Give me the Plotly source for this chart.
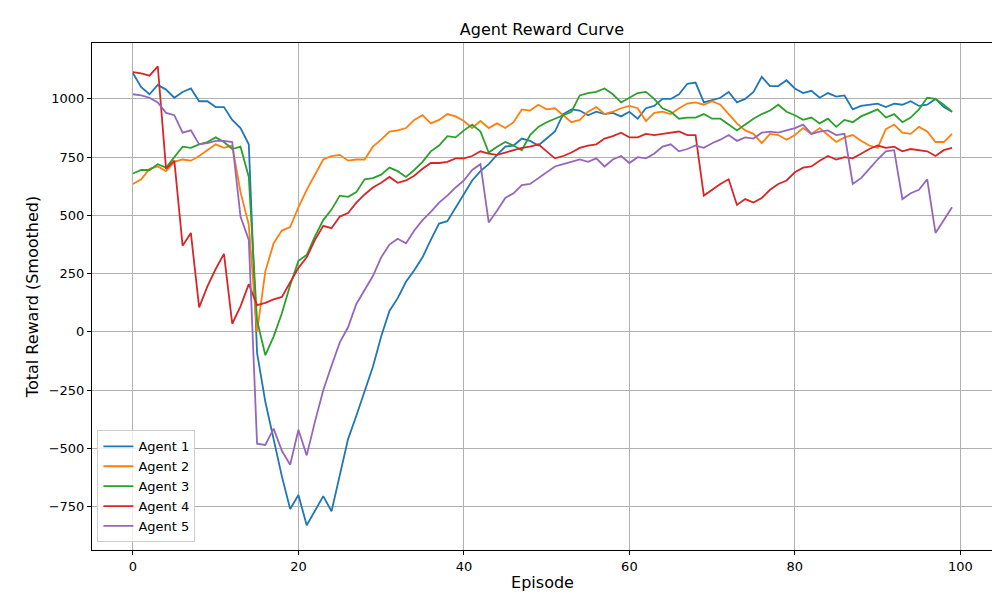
import plotly.graph_objects as go

episodes = list(range(100))
agent1 = [1110,1050,1020,1060,1040,1005,1030,1045,990,990,965,965,910,875,805,-90,-300,-460,-620,-760,-700,-830,-770,-705,-770,-620,-460,-360,-250,-150,-20,90,145,215,265,320,395,465,475,535,595,650,690,720,760,795,800,830,820,800,830,860,935,955,950,930,945,935,940,925,945,915,960,970,1000,1000,1020,1065,1070,985,995,1005,1030,985,1000,1030,1095,1055,1055,1080,1045,1025,1035,1005,1025,1010,1015,955,970,975,980,965,980,975,990,970,975,1000,965,945]
agent2 = [635,655,700,710,690,730,740,735,755,780,805,790,800,600,460,0,260,380,435,450,535,610,675,740,755,760,735,740,740,795,825,860,865,875,910,930,895,910,935,925,905,875,905,875,895,875,900,955,950,975,955,960,930,900,910,945,965,935,945,960,970,960,905,940,945,935,960,980,985,975,990,975,935,895,865,850,810,850,845,825,845,875,850,875,845,815,835,845,820,800,790,870,890,855,850,880,860,815,815,850]
agent3 = [680,695,695,720,705,750,795,790,805,815,835,815,785,795,665,50,-100,-20,80,200,305,330,410,480,525,585,580,600,655,660,675,705,690,665,695,730,775,800,840,835,865,890,860,770,795,815,800,780,845,880,900,915,930,945,1015,1025,1030,1045,1020,985,1005,1025,1030,1000,960,945,915,920,920,935,915,915,890,865,890,915,935,950,975,945,930,910,920,895,915,880,910,900,925,940,955,920,935,900,920,955,1005,1000,975,945]
agent4 = [1115,1110,1100,1140,700,735,370,425,105,195,270,335,35,110,205,115,125,140,150,210,275,320,395,455,445,495,510,555,590,620,640,665,640,650,670,700,725,725,730,745,745,755,775,765,760,770,780,790,795,805,775,745,755,770,790,800,805,830,840,855,835,835,850,845,850,855,860,845,845,585,610,635,655,545,570,555,575,610,635,650,685,705,710,735,755,740,750,745,765,785,800,790,795,775,785,780,775,755,780,790]
agent5 = [1020,1015,1005,985,940,930,855,865,805,810,820,820,815,495,395,-480,-485,-415,-510,-570,-420,-530,-385,-250,-145,-45,20,120,180,240,320,375,400,380,435,480,515,555,585,620,650,695,720,470,520,575,595,630,635,660,685,710,720,730,740,730,745,710,740,755,725,750,745,765,795,805,775,785,800,790,810,825,845,820,835,830,855,860,855,865,875,890,850,860,865,845,850,635,660,700,740,775,780,570,595,610,655,425,480,535]

names = ["Agent 1", "Agent 2", "Agent 3", "Agent 4", "Agent 5"]
colors = ["#1f77b4", "#ff7f0e", "#2ca02c", "#d62728", "#9467bd"]
series = [agent1, agent2, agent3, agent4, agent5]

fig = go.Figure()
for n, c, s in zip(names, colors, series):
    fig.add_trace(go.Scatter(x=episodes, y=s, mode="lines", name=n,
                             line=dict(color=c, width=1.8)))

axis = dict(showline=True, linecolor="black", linewidth=1, mirror=True,
            ticks="outside", ticklen=4, tickcolor="black", automargin=False,
            showgrid=True, gridcolor="#b0b0b0", gridwidth=1, zeroline=False,
            tickfont=dict(size=13, color="black"))
fig.update_layout(
    width=1000, height=600,
    paper_bgcolor="white", plot_bgcolor="white",
    font=dict(family="DejaVu Sans", size=13, color="black"),
    margin=dict(l=84, r=15, t=35, b=58, autoexpand=False),
    title=dict(text="Agent Reward Curve", x=0.534, xanchor="center", y=0.965, yanchor="middle",
               font=dict(size=16)),
    xaxis=dict(axis, range=[-4.95, 103.95], tickvals=[0, 20, 40, 60, 80, 100],
               title=dict(text="Episode", standoff=4)),
    yaxis=dict(axis, range=[-936, 1240], tickvals=[-750, -500, -250, 0, 250, 500, 750, 1000],
               title=dict(text="Total Reward (Smoothed)", standoff=6)),
    legend=dict(x=0.006, y=0.015, xanchor="left", yanchor="bottom",
                bordercolor="#cccccc", borderwidth=1, bgcolor="rgba(255,255,255,0.8)",
                font=dict(size=13)),
)
fig.write_html("out.html")
